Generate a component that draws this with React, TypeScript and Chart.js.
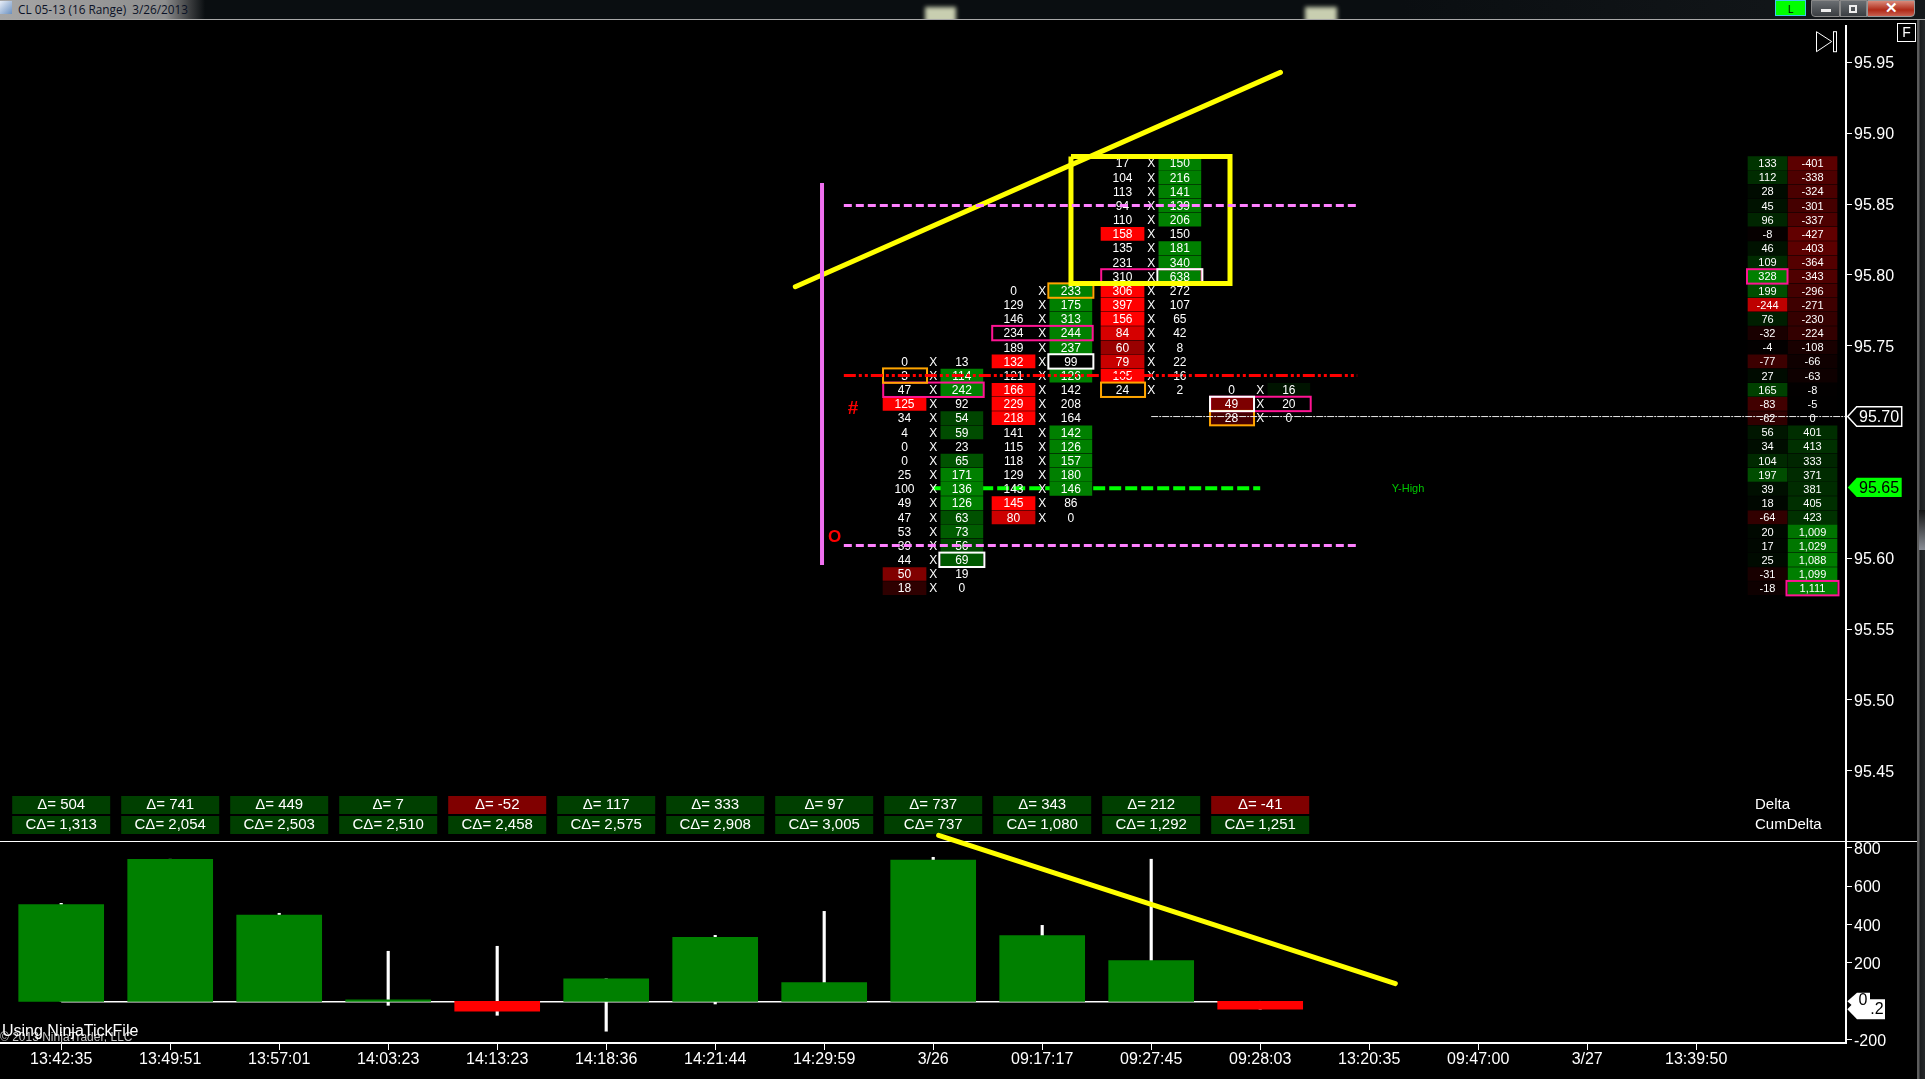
import React, { useEffect, useRef } from "react";
import { Chart, registerables } from "chart.js";

Chart.register(...registerables);

// ---------- data ----------
const timeLabels = ["13:42:35", "13:49:51", "13:57:01", "14:03:23", "14:13:23", "14:18:36", "14:21:44", "14:29:59", "3/26", "09:17:17", "09:27:45", "09:28:03", "13:20:35", "09:47:00", "3/27", "13:39:50"];
const slots = timeLabels.map((_, i) => i);

const barDelta = [504, 741, 449, 7, -52, 117, 333, 97, 737, 343, 212, -41];
const cumDelta = [1313, 2054, 2503, 2510, 2458, 2575, 2908, 3005, 737, 1080, 1292, 1251];
const barHigh = [511, 741, 459, 261, 287, 117, 344, 469, 751, 396, 741, 0];
const barLow = [0, 0, 0, -21, -73, -156, -14, 0, 0, 0, 0, -41];

const priceTicks = [95.45, 95.5, 95.55, 95.6, 95.75, 95.8, 95.85, 95.9, 95.95];
const deltaTicks = [-200, 200, 400, 600, 800];

// footprint columns: first row price, bid, ask, which side is filled
const col8Top = 95.74;
const col8Bid = [0, 3, 47, 125, 34, 4, 0, 0, 25, 100, 49, 47, 53, 39, 44, 50, 18];
const col8Ask = [13, 114, 242, 92, 54, 59, 23, 65, 171, 136, 126, 63, 73, 56, 69, 19, 0];
const col8Fill = "-aabaa-aaaaaaaabb";
const col9Top = 95.79;
const col9Bid = [0, 129, 146, 234, 189, 132, 121, 166, 229, 218, 141, 115, 118, 129, 143, 145, 80];
const col9Ask = [233, 175, 313, 244, 237, 99, 126, 142, 208, 164, 142, 126, 157, 180, 146, 86, 0];
const col9Fill = "aaaaababbbaaaaabb";
const col10Top = 95.88;
const col10Bid = [17, 104, 113, 94, 110, 158, 135, 231, 310, 306, 397, 156, 84, 60, 79, 105, 24];
const col10Ask = [150, 216, 141, 139, 206, 150, 181, 340, 638, 272, 107, 65, 42, 8, 22, 16, 2];
const col10Fill = "aaaaabaaabbbbbbb-";
const col11Top = 95.72;
const col11Bid = [0, 49, 28];
const col11Ask = [16, 20, 0];
const col11Fill = "abb";

const profileTop = 95.88;
const profileDelta = [133, 112, 28, 45, 96, -8, 46, 109, 328, 199, -244, 76, -32, -4, -77, 27, 165, -83, -62, 56, 34, 104, 197, 39, 18, -64, 20, 17, 25, -31, -18];
const profileCum = [-401, -338, -324, -301, -337, -427, -403, -364, -343, -296, -271, -230, -224, -108, -66, -63, -8, -5, 0, 401, 413, 333, 371, 381, 405, 423, 1009, 1029, 1088, 1099, 1111];

// marked cells: [column slot, price]
const pocRows = [[8, 95.72], [9, 95.76], [10, 95.8], [11, 95.71]];
const lowBidCells = [[8, 95.73], [10, 95.72], [11, 95.7]];
const lowAskCells = [[9, 95.79]];
const whiteBidCells = [[11, 95.71]];
const whiteAskCells = [[8, 95.6], [9, 95.74], [10, 95.8]];

// drawn lines, in slot / price units
const sessionLine = [{ x: 6.98, y: 95.8648 }, { x: 6.98, y: 95.5952 }];
const pinkUpper = [{ x: 7.18, y: 95.849 }, { x: 11.89, y: 95.849 }];
const pinkLower = [{ x: 7.18, y: 95.609 }, { x: 11.89, y: 95.609 }];
const redLevel = [{ x: 7.18, y: 95.729 }, { x: 11.89, y: 95.729 }];
const yHighLevel = [{ x: 8, y: 95.6494 }, { x: 11, y: 95.6494 }];
const lastPriceLine = [{ x: 10, y: 95.7 }, { x: 16.37, y: 95.7 }];
const yellowTrendUp = [{ x: 6.735, y: 95.7916 }, { x: 11.186, y: 95.9429 }];
const yellowBox = [{ x: 9.264, y: 95.8835 }, { x: 10.723, y: 95.8835 }, { x: 10.723, y: 95.7939 }, { x: 9.264, y: 95.7939 }, { x: 9.264, y: 95.8835 }];
const yellowTrendDown = [{ x: 8.05, y: 865.7 }, { x: 12.24, y: 92.3 }];
const zeroLine = [{ x: 0, y: -2 }, { x: 11, y: -2 }];

// ---------- layout constants ----------
const W = 1925;
const AXIS_X = 1846;
const PX_PER_SLOT = 109;
const SLOT0 = 61.2;
const xMin = -SLOT0 / PX_PER_SLOT;
const xMax = (AXIS_X - SLOT0) / PX_PER_SLOT;
const SIDE = 0.263;
const ROW_SHIFT = 0.0011;
const CELL_H = 0.0046;
const FONT = '"Liberation Sans", Arial, sans-serif';
const PINK = "#ff1493";
const ORANGE = "#ffa500";

const columns = [
  { slot: 8, top: col8Top, bid: col8Bid, ask: col8Ask, fill: col8Fill },
  { slot: 9, top: col9Top, bid: col9Bid, ask: col9Ask, fill: col9Fill },
  { slot: 10, top: col10Top, bid: col10Bid, ask: col10Ask, fill: col10Fill },
  { slot: 11, top: col11Top, bid: col11Bid, ask: col11Ask, fill: col11Fill },
];

const rowPrice = (top: number, i: number) => Number((top - i * 0.01).toFixed(2));
const redShade = (v: number, full: number) => `rgb(${Math.min(255, Math.round((255 * Math.abs(v)) / full))},0,0)`;
const greenShade = (v: number, full: number) => `rgb(0,${Math.min(128, Math.round((128 * Math.abs(v)) / full))},0)`;
const cellSpan = (p: number) => [p - ROW_SHIFT - CELL_H, p - ROW_SHIFT + CELL_H];

const bidBars: any[] = [];
const bidColors: string[] = [];
const askBars: any[] = [];
const askColors: string[] = [];
columns.forEach((c) => {
  c.bid.forEach((b, i) => {
    const p = rowPrice(c.top, i);
    if (c.fill[i] === "b") {
      bidBars.push({ x: c.slot - SIDE, y: cellSpan(p) });
      bidColors.push(redShade(b, 100));
    }
    if (c.fill[i] === "a") {
      askBars.push({ x: c.slot + SIDE, y: cellSpan(p) });
      askColors.push(greenShade(c.ask[i], 100));
    }
  });
});
const PROFILE_D_X = (1767.5 - SLOT0) / PX_PER_SLOT;
const PROFILE_C_X = (1812.5 - SLOT0) / PX_PER_SLOT;
const maxD = Math.max(...profileDelta.map(Math.abs));
const maxC = Math.max(...profileCum.map(Math.abs));
const shade = (v: number, full: number) => (v < 0 ? redShade(v, full) : greenShade(v, full));

const line = (data: any[], color: string, width: number, extra: any = {}) => ({
  type: "line",
  data,
  borderColor: color,
  borderWidth: width,
  pointRadius: 0,
  tension: 0,
  fill: false,
  clip: false,
  order: 1,
  ...extra,
});

function drawTag(ctx: any, y: number, tipX: number, bodyX: number, right: number, half: number, fill: string, stroke: string | null) {
  ctx.beginPath();
  ctx.moveTo(tipX, y);
  ctx.lineTo(bodyX, y - half);
  ctx.lineTo(right, y - half);
  ctx.lineTo(right, y + half);
  ctx.lineTo(bodyX, y + half);
  ctx.closePath();
  ctx.fillStyle = fill;
  ctx.fill();
  if (stroke) {
    ctx.strokeStyle = stroke;
    ctx.lineWidth = 1.5;
    ctx.stroke();
  }
}

// text and outlines of the footprint: painted right after the cells, below the lines
const cellTextPlugin = {
  id: "cellText",
  afterDatasetDraw(chart: any, args: any) {
    if (args.index !== 0) return; // dataset 0 is the last cell dataset painted
    const ctx = chart.ctx;
    const xs = chart.scales.x;
    const ys = chart.scales.y;
    const py = (p: number) => ys.getPixelForValue(p - ROW_SHIFT);
    ctx.save();
    ctx.textAlign = "center";
    ctx.textBaseline = "middle";
    ctx.fillStyle = "#fff";
    ctx.font = `12px ${FONT}`;
    columns.forEach((c) => {
      c.bid.forEach((b, i) => {
        const y = py(rowPrice(c.top, i)) + 1;
        ctx.fillText(String(b), xs.getPixelForValue(c.slot - SIDE), y);
        ctx.fillText("X", xs.getPixelForValue(c.slot), y);
        ctx.fillText(String(c.ask[i]), xs.getPixelForValue(c.slot + SIDE), y);
      });
    });
    ctx.font = `11px ${FONT}`;
    profileDelta.forEach((d, i) => {
      const y = py(rowPrice(profileTop, i)) + 1;
      ctx.fillText(String(d), xs.getPixelForValue(PROFILE_D_X), y);
      ctx.fillText(profileCum[i].toLocaleString("en-US"), xs.getPixelForValue(PROFILE_C_X), y);
    });

    const box = (x0: number, x1: number, p: number, color: string) => {
      const y = py(p);
      ctx.strokeStyle = color;
      ctx.lineWidth = 2;
      ctx.strokeRect(x0, y - 7.2, x1 - x0, 14.4);
    };
    pocRows.forEach(([s, p]) => {
      const cx = xs.getPixelForValue(s);
      box(cx - 50, cx + 50.5, p, PINK);
    });
    const bidBox = (s: number, p: number, color: string) => {
      const cx = xs.getPixelForValue(s - SIDE);
      box(cx - 21.5, cx + 22.5, p, color);
    };
    const askBox = (s: number, p: number, color: string) => {
      const cx = xs.getPixelForValue(s + SIDE);
      box(cx - 22.5, cx + 22.5, p, color);
    };
    lowBidCells.forEach(([s, p]) => bidBox(s, p, ORANGE));
    lowAskCells.forEach(([s, p]) => askBox(s, p, ORANGE));
    whiteBidCells.forEach(([s, p]) => bidBox(s, p, "#fff"));
    whiteAskCells.forEach(([s, p]) => askBox(s, p, "#fff"));
    // profile marks
    const d = xs.getPixelForValue(PROFILE_D_X);
    box(d - 20.5, d + 20, 95.8, PINK);
    const m = xs.getPixelForValue(PROFILE_C_X);
    box(m - 26, m + 26, 95.58, PINK);
    ctx.restore();
  },
  afterDraw(chart: any) {
    const ctx = chart.ctx;
    const xs = chart.scales.x;
    const ys = chart.scales.y;
    ctx.save();
    // markers
    ctx.textAlign = "center";
    ctx.textBaseline = "middle";
    ctx.fillStyle = "#ff0000";
    ctx.font = `bold 19px ${FONT}`;
    ctx.fillText("#", 853, 408.5);
    ctx.font = `bold 17px ${FONT}`;
    ctx.fillText("O", 834.7, 537);
    ctx.fillStyle = "#00c800";
    ctx.font = `11px ${FONT}`;
    ctx.fillText("Y-High", 1408, ys.getPixelForValue(95.65) + 2);

    // delta table
    ctx.font = `15px ${FONT}`;
    barDelta.forEach((d, i) => {
      const cx = xs.getPixelForValue(i);
      ctx.fillStyle = d < 0 ? "#800000" : "#003f00";
      ctx.fillRect(cx - 49, 796, 98, 18);
      ctx.fillStyle = "#003f00";
      ctx.fillRect(cx - 49, 816, 98, 18);
      ctx.fillStyle = "#fff";
      ctx.fillText(`\u0394= ${d}`, cx, 804.5);
      ctx.fillText(`C\u0394= ${cumDelta[i].toLocaleString("en-US")}`, cx, 824.5);
    });
    ctx.textAlign = "left";
    ctx.fillText("Delta", 1755, 804.5);
    ctx.fillText("CumDelta", 1755, 824.5);

    // price tags
    const y70 = ys.getPixelForValue(95.7);
    drawTag(ctx, y70, 1847.7, 1856.7, 1901.7, 9.7, "#000", "#fff");
    const y65 = ys.getPixelForValue(95.65);
    drawTag(ctx, y65, 1847.7, 1856.7, 1901.7, 9.7, "#00ff00", null);
    ctx.font = `16px ${FONT}`;
    ctx.fillStyle = "#fff";
    ctx.fillText("95.70", 1859, y70 + 1.5);
    ctx.fillStyle = "#000";
    ctx.fillText("95.65", 1859, y65 + 1.5);

    // go-to-end and F buttons
    ctx.strokeStyle = "#fff";
    ctx.lineWidth = 1;
    ctx.beginPath();
    ctx.moveTo(1816.5, 31.7);
    ctx.lineTo(1831.7, 41.5);
    ctx.lineTo(1816.5, 51.7);
    ctx.closePath();
    ctx.stroke();
    ctx.strokeRect(1833.5, 31.7, 3, 20);
    ctx.strokeRect(1897.5, 23.5, 18, 18);
    ctx.font = `14px ${FONT}`;
    ctx.fillStyle = "#fff";
    ctx.textAlign = "center";
    ctx.fillText("F", 1906.5, 33);
    ctx.restore();
  },
};

const deltaPanelPlugin = {
  id: "deltaPanel",
  afterDraw(chart: any) {
    const ctx = chart.ctx;
    const ys = chart.scales.y;
    ctx.save();
    const y0 = ys.getPixelForValue(0);
    const yLast = ys.getPixelForValue(barDelta[barDelta.length - 1]);
    drawTag(ctx, yLast, 1847.3, 1857, 1885, 10, "#fff", null);
    drawTag(ctx, y0, 1847.3, 1857, 1870, 8.5, "#fff", null);
    ctx.textBaseline = "middle";
    ctx.textAlign = "center";
    ctx.font = `16px ${FONT}`;
    ctx.fillStyle = "#000";
    ctx.fillText(".2", 1877, yLast);
    ctx.fillText("0", 1863, y0 - 1);
    ctx.textAlign = "left";
    ctx.fillStyle = "#c4c4c4";
    ctx.font = `12px ${FONT}`;
    ctx.fillText("\u00a9 2013 NinjaTrader, LLC", 0, y0 + 36.5);
    ctx.fillStyle = "#fff";
    ctx.font = `16px ${FONT}`;
    ctx.fillText("Using NinjaTickFile", 2, y0 + 30);
    ctx.restore();
  },
};

const xBase = { type: "linear", min: xMin, max: xMax, offset: false, bounds: "data" };
const pinAxisWidth = (s: any) => {
  s.width = W - AXIS_X;
  s.paddingTop = 0;
  s.paddingBottom = 0;
};

export default function App() {
  const topRef = useRef<HTMLCanvasElement>(null);
  const botRef = useRef<HTMLCanvasElement>(null);

  useEffect(() => {
    document.body.style.margin = "0";
    document.body.style.background = "#000";
    document.body.style.overflow = "hidden";

    const topChart = new Chart(topRef.current as any, {
      type: "bar",
      plugins: [cellTextPlugin],
      data: {
        datasets: [
          { type: "bar", data: bidBars, backgroundColor: bidColors, barThickness: 43, grouped: false, borderWidth: 0, order: 10 },
          { type: "bar", data: askBars, backgroundColor: askColors, barThickness: 42, grouped: false, borderWidth: 0, order: 11 },
          {
            type: "bar",
            data: profileDelta.map((_, i) => ({ x: PROFILE_D_X, y: cellSpan(rowPrice(profileTop, i)) })),
            backgroundColor: profileDelta.map((v) => shade(v, maxD)),
            barThickness: 39,
            grouped: false,
            borderWidth: 0,
            order: 12,
          },
          {
            type: "bar",
            data: profileCum.map((_, i) => ({ x: PROFILE_C_X, y: cellSpan(rowPrice(profileTop, i)) })),
            backgroundColor: profileCum.map((v) => shade(v, maxC)),
            barThickness: 49,
            grouped: false,
            borderWidth: 0,
            order: 13,
          },
          line(lastPriceLine, "#e8e8e8", 1, { borderDash: [7, 1, 2, 1] }),
          line(sessionLine, "#f070f0", 4),
          line(pinkUpper, "#ff80ff", 3, { borderDash: [8, 4] }),
          line(pinkLower, "#ff80ff", 3, { borderDash: [8, 4] }),
          line(redLevel, "#ff0000", 3, { borderDash: [12, 3, 3, 3, 3, 3] }),
          line(yHighLevel, "#00ff00", 4, { borderDash: [12, 4], order: 20 }),
          line(yellowBox, "#ffff00", 5, { borderJoinStyle: "miter" }),
          line(yellowTrendUp, "#ffff00", 5, { borderCapStyle: "round" }),
        ],
      },
      options: {
        responsive: false,
        animation: false,
        events: [],
        layout: { padding: { top: 26, bottom: 0, left: 0, right: 0 } },
        plugins: { legend: { display: false }, tooltip: { enabled: false }, title: { display: false } },
        scales: {
          x: { ...xBase, display: false, grid: { display: false, offset: false } },
          y: {
            type: "linear",
            position: "right",
            bounds: "data",
            min: 95.40046,
            max: 95.97562,
            afterFit: pinAxisWidth,
            afterBuildTicks: (a: any) => {
              a.ticks = priceTicks.map((value) => ({ value }));
            },
            border: { color: "#fff", width: 2 },
            grid: { drawOnChartArea: false, drawTicks: true, tickLength: 6, color: "#fff" },
            ticks: { color: "#fff", padding: 2, labelOffset: 1.5, font: { family: FONT, size: 16 }, callback: (v: any) => Number(v).toFixed(2) },
          },
        },
      } as any,
    } as any);

    const botChart = new Chart(botRef.current as any, {
      type: "bar",
      plugins: [deltaPanelPlugin],
      data: {
        datasets: [
          line(yellowTrendDown, "#ffff00", 5, { borderCapStyle: "round" }),
          {
            type: "bar",
            data: barDelta.map((d, i) => ({ x: i, y: [0, d] })),
            backgroundColor: barDelta.map((d) => (d < 0 ? "#ff0000" : "#008000")),
            barThickness: 85,
            grouped: false,
            borderWidth: 0,
            order: 5,
          },
          line(zeroLine, "#fff", 1.5, { order: 6 }),
          {
            type: "bar",
            data: barDelta.map((_, i) => ({ x: i, y: [barLow[i], barHigh[i]] })),
            backgroundColor: "#fff",
            barThickness: 2.5,
            grouped: false,
            borderWidth: 0,
            order: 7,
          },
        ],
      },
      options: {
        responsive: false,
        animation: false,
        events: [],
        layout: { padding: { top: 11, bottom: 0, left: 0, right: 0 } },
        plugins: { legend: { display: false }, tooltip: { enabled: false }, title: { display: false } },
        scales: {
          x: {
            ...xBase,
            afterFit: (s: any) => {
              s.height = 36;
            },
            afterBuildTicks: (a: any) => {
              a.ticks = slots.map((value) => ({ value }));
            },
            border: { color: "#fff", width: 2 },
            grid: { drawOnChartArea: false, drawTicks: true, tickLength: 7, color: "#fff", offset: false },
            ticks: { color: "#fff", padding: 0, autoSkip: false, maxRotation: 0, font: { family: FONT, size: 16 }, callback: (v: any) => timeLabels[v] },
          },
          y: {
            type: "linear",
            position: "right",
            bounds: "data",
            min: -217.5,
            max: 836,
            afterFit: pinAxisWidth,
            afterBuildTicks: (a: any) => {
              a.ticks = deltaTicks.map((value) => ({ value }));
            },
            border: { color: "#fff", width: 2 },
            grid: { drawOnChartArea: false, drawTicks: true, tickLength: 6, color: "#fff" },
            ticks: { color: "#fff", padding: 2, labelOffset: 1.5, font: { family: FONT, size: 16 }, callback: (v: any) => String(v) },
          },
        },
      } as any,
    } as any);

    return () => {
      topChart.destroy();
      botChart.destroy();
    };
  }, []);

  const abs = (left: number, top: number, width: number, height: number, extra: any = {}) => ({
    position: "absolute" as const,
    left,
    top,
    width,
    height,
    ...extra,
  });
  const blob = { background: "#c8ceb0", filter: "blur(2px)" };

  return (
    <div style={abs(0, 0, 1925, 1079, { background: "#000", overflow: "hidden" })}>
      {/* window title bar */}
      <div style={abs(0, 0, 1925, 19, { background: "linear-gradient(90deg,#a6a6a6 0,#8e8e8e 165px,#3a3c3e 190px,#0a0e11 205px,#0a0e11 1400px,#14181b 1925px)", overflow: "hidden" })}>
        <div style={abs(925, 7, 31, 16, blob)} />
        <div style={abs(1305, 7, 32, 16, blob)} />
      </div>
      <div style={abs(0, 19, 1925, 1, { background: "#a8a8a8" })} />
      <div style={abs(0, 1, 12, 13, { background: "linear-gradient(135deg,#e8eef8,#6a90c0)" })} />
      <div style={abs(18, 0, 300, 18, { color: "#0b1226", font: '11.8px/19px "Open Sans", sans-serif', whiteSpace: "pre" })}>CL 05-13 (16 Range)  3/26/2013</div>
      <div style={abs(1775, 0, 31, 16, { background: "#00ff00", border: "1px solid #3fc8e8", boxSizing: "border-box", color: "#000", font: '11px/15px "Open Sans", sans-serif', textAlign: "center" })}>L</div>
      <div style={abs(1811, 0, 29, 17, { background: "linear-gradient(#6a6e72,#3a3e42)", border: "1px solid #888", boxSizing: "border-box", borderRadius: "0 0 0 4px" })}>
        <div style={abs(9, 8, 10, 3, { background: "#eee" })} />
      </div>
      <div style={abs(1840, 0, 27, 17, { background: "linear-gradient(#6a6e72,#3a3e42)", border: "1px solid #888", boxSizing: "border-box" })}>
        <div style={abs(8, 4, 8, 8, { border: "2px solid #eee", boxSizing: "border-box" })} />
      </div>
      <div style={abs(1867, 0, 48, 17, { background: "linear-gradient(#d88a7a,#b02a18 60%,#c86050)", border: "1px solid #999", boxSizing: "border-box", borderRadius: "0 0 4px 0", color: "#fff", font: 'bold 15px/14px "Liberation Sans", sans-serif', textAlign: "center" })}>{"\u2715"}</div>
      {/* window right frame */}
      <div style={abs(1917, 20, 8, 1059, { background: "linear-gradient(90deg,#5c5c5c 0,#5c5c5c 2px,#1a1c1e 3px,#26282a 100%)" })} />
      <div style={abs(1919, 510, 6, 40, { background: "linear-gradient(#141414,#8a8e96)" })} />
      {/* panel separator */}
      <div style={abs(0, 841, 1917, 1, { background: "#fff" })} />
      <canvas ref={topRef} width={1925} height={841} style={abs(0, 0, 1925, 841, { display: "block" })} />
      <canvas ref={botRef} width={1925} height={249} style={abs(0, 830, 1925, 249, { display: "block" })} />
    </div>
  );
}
